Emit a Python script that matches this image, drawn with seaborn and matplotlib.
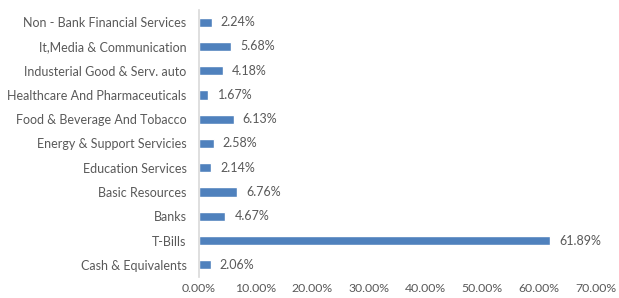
import matplotlib
matplotlib.use("Agg")
import matplotlib.pyplot as plt
import seaborn as sns
import pandas as pd

categories = ["Non - Bank Financial Services", "It,Media & Communication",
              "Industerial Good & Serv. auto", "Healthcare And Pharmaceuticals",
              "Food & Beverage And Tobacco", "Energy & Support Servicies",
              "Education Services", "Basic Resources", "Banks", "T-Bills",
              "Cash & Equivalents"]
values = [2.24, 5.68, 4.18, 1.67, 6.13, 2.58, 2.14, 6.76, 4.67, 61.89, 2.06]
xticks = [0, 10, 20, 30, 40, 50, 60, 70]

sns.set_theme(style="white")
plt.rcParams['font.family'] = ['Lato', 'DejaVu Sans']
text_color = "#595959"

df = pd.DataFrame({"category": categories, "value": values})
fig = plt.figure(figsize=(6.19, 2.98), dpi=100)
ax = fig.add_axes([0.3215, 0.0705, 0.641, 0.896])
sns.barplot(data=df, x="value", y="category", orient="h", color="#4f81bd",
            width=0.38, saturation=1, ax=ax)
ax.set_xlim(0, 70)
ax.set_ylim(10.5, -0.5)
ax.set_xticks(xticks)
ax.set_xticklabels([f"{t:.2f}%" for t in xticks], color=text_color, fontsize=8.8)
ax.tick_params(axis="y", labelsize=9, labelcolor=text_color, length=0, pad=9)
ax.tick_params(axis="x", length=0, pad=4)
ax.set_xlabel("")
ax.set_ylabel("")
for s in ["top", "right", "bottom"]:
    ax.spines[s].set_visible(False)
ax.spines["left"].set_color("#d9d9d9")
ax.spines["left"].set_linewidth(1.2)
for i, v in enumerate(values):
    ax.text(v + 1.6, i, f"{v:.2f}%", va="center", ha="left", fontsize=9, color=text_color)
fig.savefig("out.png", dpi=100)
